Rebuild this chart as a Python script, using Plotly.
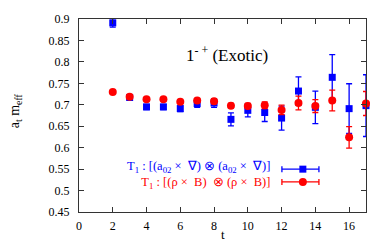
import plotly.graph_objects as go

# ---- data ----
t_blue = [2, 3, 4, 5, 6, 7, 8, 9, 10, 11, 12, 13, 14, 15, 16, 17]
m_blue = [0.891, 0.717, 0.695, 0.695, 0.691, 0.703, 0.704, 0.666, 0.687, 0.682, 0.669, 0.732, 0.694, 0.764, 0.691, 0.698]
e_blue = [0.010, 0.004, 0.006, 0.006, 0.007, 0.009, 0.010, 0.015, 0.015, 0.021, 0.028, 0.033, 0.038, 0.053, 0.058, 0.072]

t_red = [2, 3, 4, 5, 6, 7, 8, 9, 10, 11, 12, 13, 14, 15, 16, 17]
m_red = [0.730, 0.719, 0.713, 0.713, 0.707, 0.710, 0.708, 0.698, 0.697, 0.699, 0.688, 0.704, 0.697, 0.710, 0.624, 0.703]
e_red = [0.002, 0.003, 0.003, 0.003, 0.003, 0.004, 0.005, 0.005, 0.006, 0.008, 0.011, 0.016, 0.015, 0.024, 0.025, 0.028]

x_ticks = list(range(0, 17, 2))
y_ticks = [0.45, 0.5, 0.55, 0.6, 0.65, 0.7, 0.75, 0.8, 0.85, 0.9]
y_ticklabels = ["0.45", "0.5", "0.55", "0.6", "0.65", "0.7", "0.75", "0.8", "0.85", "0.9"]

label_blue = "T<sub>1</sub> : [(a<sub>02</sub> ×\u2002∇) ⊗ (a<sub>02</sub> ×\u2002∇)]"
label_red = "T<sub>1</sub> : [(ρ ×\u2002B)\u2002⊗ (ρ ×\u2002B)]"

BLUE = "#0000ff"
RED = "#ff0000"
FONT = "Liberation Serif"

fig = go.Figure()
fig.add_trace(go.Scatter(
    x=t_blue, y=m_blue, mode="markers",
    marker=dict(symbol="square", size=7, color=BLUE),
    error_y=dict(type="data", array=e_blue, color=BLUE, thickness=1.3, width=3),
    cliponaxis=False, showlegend=False))
fig.add_trace(go.Scatter(
    x=t_red, y=m_red, mode="markers",
    marker=dict(symbol="circle", size=8, color=RED),
    error_y=dict(type="data", array=e_red, color=RED, thickness=1.3, width=3),
    cliponaxis=False, showlegend=False))

axis_common = dict(showline=True, linecolor="#333333", linewidth=1, mirror="allticks",
                   ticks="inside", ticklen=5, tickcolor="#333333", showgrid=False,
                   zeroline=False, tickfont=dict(family=FONT, size=12, color="black"))
fig.update_xaxes(range=[0, 17], tickvals=x_ticks, ticklabelstandoff=3, **axis_common)
fig.update_yaxes(range=[0.45, 0.9], tickvals=y_ticks, ticktext=y_ticklabels,
                 ticklabelstandoff=6, **axis_common)

annotations = [
    dict(text="1<sup>- +</sup> (Exotic)", x=0.516, y=0.887, xref="paper", yref="paper",
         xanchor="center", showarrow=False, font=dict(family=FONT, size=17, color="black")),
    dict(text="a<sub>t</sub> m<sub>eff</sub>", x=-0.223, y=0.527, xref="paper", yref="paper",
         xanchor="center", yanchor="middle",
         textangle=-90, showarrow=False, font=dict(family=FONT, size=14, color="black")),
    dict(text="t", x=0.5, y=-0.115, xref="paper", yref="paper", yanchor="middle",
         xanchor="center", showarrow=False, font=dict(family=FONT, size=13, color="black")),
    dict(text=f"<span style='color:{BLUE}'>{label_blue}</span><br>"
              f"<span style='color:{RED}'>{label_red}</span>",
         x=0.672, y=0.19, xref="paper", yref="paper", xanchor="right", yanchor="middle",
         align="right", showarrow=False, font=dict(family=FONT, size=12.5, color=BLUE)),
]

shapes = []
for yy, col, sym in [(0.222, BLUE, "rect"), (0.156, RED, "circle")]:
    shapes.append(dict(type="line", xref="paper", yref="paper", x0=0.707, x1=0.836, y0=yy, y1=yy,
                       line=dict(color=col, width=1.3)))
    for xx in (0.707, 0.836):
        shapes.append(dict(type="line", xref="paper", yref="paper", xsizemode="scaled",
                           ysizemode="pixel", yanchor=yy, x0=xx, x1=xx, y0=-3, y1=3,
                           line=dict(color=col, width=1.3)))
    if sym == "rect":
        shapes.append(dict(type="rect", xref="paper", yref="paper", xsizemode="pixel",
                           ysizemode="pixel", xanchor=0.78, yanchor=yy, x0=-3.5, x1=3.5,
                           y0=-3.5, y1=3.5, fillcolor=col, line=dict(width=0)))
    else:
        shapes.append(dict(type="circle", xref="paper", yref="paper", xsizemode="pixel",
                           ysizemode="pixel", xanchor=0.78, yanchor=yy, x0=-4, x1=4,
                           y0=-4, y1=4, fillcolor=col, line=dict(width=0)))

fig.update_layout(width=382, height=245, margin=dict(l=79, r=16, t=12, b=30),
                  plot_bgcolor="white", paper_bgcolor="white",
                  annotations=annotations, shapes=shapes, showlegend=False)

fig.write_html("out.html", config={"displayModeBar": False},
               post_script="document.body.style.margin='0';document.body.style.overflow='hidden';")
